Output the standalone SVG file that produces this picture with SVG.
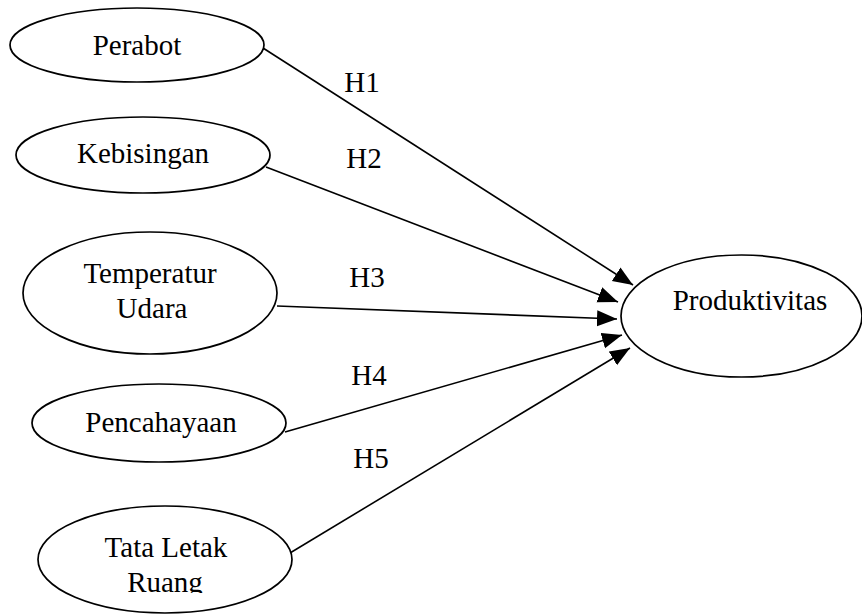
<svg xmlns="http://www.w3.org/2000/svg" width="862" height="614" viewBox="0 0 862 614">
<style>
.node ellipse{fill:#fff;stroke:#000;stroke-width:1.7}
.t{font-family:"Liberation Serif","Times New Roman",serif;font-size:29px;fill:#000;text-anchor:middle}
.conn line{stroke:#000;stroke-width:1.6}
</style>
<defs>
<marker id="ah" markerUnits="userSpaceOnUse" markerWidth="22" markerHeight="18" refX="20" refY="8" orient="auto">
<path d="M0,0 L20,8 L0,16 z" fill="#000"/>
</marker>
<clipPath id="clipR"><rect x="0" y="0" width="862" height="593"/></clipPath>
</defs>
<rect width="862" height="614" fill="#fff"/>
<g id="connectors" class="conn">
<line x1="263" y1="48" x2="633" y2="285" marker-end="url(#ah)"/>
<line x1="266" y1="167" x2="618" y2="302" marker-end="url(#ah)"/>
<line x1="277" y1="306" x2="617" y2="319" marker-end="url(#ah)"/>
<line x1="285" y1="432" x2="622" y2="335" marker-end="url(#ah)"/>
<line x1="290" y1="553" x2="630" y2="348" marker-end="url(#ah)"/>
<text class="t" x="362" y="92">H1</text>
<text class="t" x="364" y="168">H2</text>
<text class="t" x="367" y="287">H3</text>
<text class="t" x="369" y="385">H4</text>
<text class="t" x="371" y="468">H5</text>
</g>
<g id="perabot" class="node">
<ellipse cx="137" cy="45" rx="127" ry="37"/>
<text class="t" x="137" y="55">Perabot</text>
</g>
<g id="kebisingan" class="node">
<ellipse cx="143" cy="155" rx="127" ry="38"/>
<text class="t" x="143" y="163">Kebisingan</text>
</g>
<g id="temperatur" class="node">
<ellipse cx="150" cy="293" rx="127" ry="61"/>
<text class="t" x="150" y="283">Temperatur</text>
<text class="t" x="152" y="318">Udara</text>
</g>
<g id="pencahayaan" class="node">
<ellipse cx="159" cy="423" rx="127" ry="39"/>
<text class="t" x="161" y="432">Pencahayaan</text>
</g>
<g id="tataletak" class="node">
<ellipse cx="165" cy="559.5" rx="127" ry="53.5"/>
<text class="t" x="166" y="557">Tata Letak</text>
<text class="t" x="165" y="592" clip-path="url(#clipR)">Ruang</text>
</g>
<g id="produktivitas" class="node">
<ellipse cx="741.5" cy="316" rx="120.5" ry="61"/>
<text class="t" x="750" y="310">Produktivitas</text>
</g>
</svg>
